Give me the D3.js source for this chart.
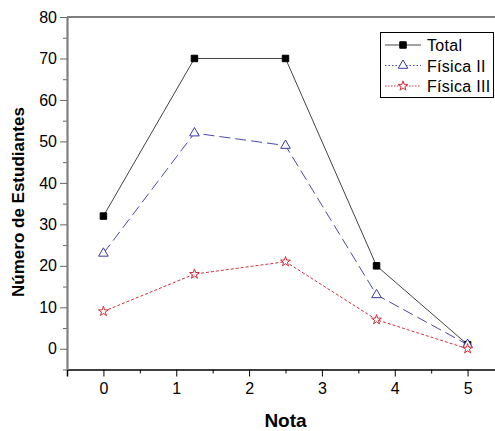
<!DOCTYPE html>
<html>
<head>
<meta charset="utf-8">
<script src="https://cdn.jsdelivr.net/npm/d3@7"></script>
<style>
    body { margin: 0; background: #fff; }
    svg { display: block; font-family: "Liberation Sans", Arial, sans-serif; }
</style>
</head>
<body>
<svg id="chart"></svg>
<script>
// data

const notas = [0, 1.25, 2.5, 3.75, 5];
const total = [32, 70, 70, 20, 1];
const fisica2 = [23, 52, 49, 13, 1];
const fisica3 = [9, 18, 21, 7, 0];

const yTicks = [0, 10, 20, 30, 40, 50, 60, 70, 80];
const yMinor = [-5, 5, 15, 25, 35, 45, 55, 65, 75];
const xTicks = [0, 1, 2, 3, 4, 5];
const xMinor = [-0.5, 0.5, 1.5, 2.5, 3.5, 4.5, 5.5];

// sizes

let width = 495;
let height = 431;
let plotLeft = 67;
let plotRight = 504;
let plotTop = 17;
let plotBottom = 369.5;

let svg = d3.select('#chart')
    .attr('width', width)
    .attr('height', height);

// scales

let xScale = d3.scaleLinear()
    .domain([-0.5, 5.5])
    .range([plotLeft, plotRight]);

let yScale = d3.scaleLinear()
    .domain([-5, 80])
    .range([plotBottom, plotTop]);

// axes

// top frame line
svg.append('line')
    .attr('x1', plotLeft).attr('x2', plotRight)
    .attr('y1', plotTop).attr('y2', plotTop)
    .style('stroke', '#000')
    .style('stroke-width', 1.2);

// x minor ticks
svg.append('g')
    .attr('transform', `translate(0, ${plotBottom})`)
    .call(d3.axisBottom(xScale).tickValues(xMinor).tickSize(4).tickFormat(''))
    .call(g => g.select('.domain').remove())
    .call(g => g.selectAll('.tick line').style('stroke', '#000'));

// x axis
svg.append('g')
    .attr('transform', `translate(0, ${plotBottom})`)
    .call(d3.axisBottom(xScale).tickValues(xTicks).tickSize(7).tickPadding(6.5).tickFormat(d3.format('d')))
    .call(g => g.select('.domain').style('stroke', '#000').style('stroke-width', 1.5))
    .call(g => g.selectAll('.tick line').style('stroke', '#000'))
    .call(g => g.selectAll('.tick text')
        .style('font-size', '16px')
        .style('font-family', '"Liberation Sans", Arial, sans-serif')
        .style('fill', '#000'));

// y minor ticks
svg.append('g')
    .attr('transform', `translate(${plotLeft}, 0)`)
    .call(d3.axisLeft(yScale).tickValues(yMinor).tickSize(4).tickFormat(''))
    .call(g => g.select('.domain').remove())
    .call(g => g.selectAll('.tick line').style('stroke', '#666'));

// y axis
svg.append('g')
    .attr('transform', `translate(${plotLeft}, 0)`)
    .call(d3.axisLeft(yScale).tickValues(yTicks).tickSize(7).tickPadding(3).tickSizeOuter(0))
    .call(g => g.select('.domain').style('stroke', '#808080').style('stroke-width', 2.2))
    .call(g => g.selectAll('.tick line').style('stroke', '#666'))
    .call(g => g.selectAll('.tick text')
        .style('font-size', '16px')
        .style('font-family', '"Liberation Sans", Arial, sans-serif')
        .style('fill', '#000'));

// axis titles
svg.append('text')
    .attr('x', (plotLeft + plotRight) / 2)
    .attr('y', 427)
    .style('text-anchor', 'middle')
    .style('font-size', '19px')
    .style('font-weight', 'bold')
    .text('Nota');

svg.append('text')
    .attr('transform', 'translate(24, 202) rotate(-90)')
    .style('text-anchor', 'middle')
    .style('font-size', '17px')
    .style('font-weight', 'bold')
    .text('Número de Estudiantes');

// series

const series = [
    {name: 'Total', values: total, color: '#000', lineColor: '#444', dash: null, legendDash: null,
        symbol: d3.symbolSquare, size: 42, fill: '#000'},
    {name: 'Física II', values: fisica2, color: '#3b3b9c', lineColor: '#4a4aa6', dash: '11,5', legendDash: '1.5,2',
        symbol: d3.symbolTriangle, size: 40, fill: '#fff'},
    {name: 'Física III', values: fisica3, color: '#d2303c', lineColor: '#d2303c', dash: '3,2', legendDash: '1.5,1.5',
        symbol: d3.symbolStar, size: 30, fill: '#fff'}
];

let line = d3.line()
    .x(d => xScale(d[0]))
    .y(d => yScale(d[1]));

series.forEach(s => {
    let pts = notas.map((n, i) => [n, s.values[i]]);

    svg.append('path')
        .attr('d', line(pts))
        .style('fill', 'none')
        .style('stroke', s.lineColor)
        .style('stroke-width', 1)
        .style('stroke-dasharray', s.dash);

    svg.append('g').selectAll('path')
        .data(pts)
        .enter()
        .append('path')
        .attr('transform', d => `translate(${xScale(d[0])}, ${yScale(d[1])})`)
        .attr('d', d3.symbol(s.symbol, s.size))
        .style('fill', s.fill)
        .style('stroke', s.color)
        .style('stroke-width', 1);
});

// legend

let legend = svg.append('g');

legend.append('rect')
    .attr('x', 380.5)
    .attr('y', 32.5)
    .attr('width', 113)
    .attr('height', 65)
    .style('fill', '#fff')
    .style('stroke', '#000')
    .style('stroke-width', 1);

series.forEach((s, i) => {
    let cy = 45 + i * 20.5;

    legend.append('line')
        .attr('x1', 385).attr('x2', 421)
        .attr('y1', cy).attr('y2', cy)
        .style('stroke', s.lineColor)
        .style('stroke-width', 1)
        .style('stroke-dasharray', s.legendDash);

    legend.append('path')
        .attr('transform', `translate(403, ${cy})`)
        .attr('d', d3.symbol(s.symbol, s.size))
        .style('fill', s.fill)
        .style('stroke', s.color)
        .style('stroke-width', 1);

    legend.append('text')
        .attr('x', 427)
        .attr('y', cy + 6)
        .style('font-size', '16px')
        .style('letter-spacing', '0.3px')
        .style('fill', '#000')
        .text(s.name);
});
</script>
</body>
</html>
